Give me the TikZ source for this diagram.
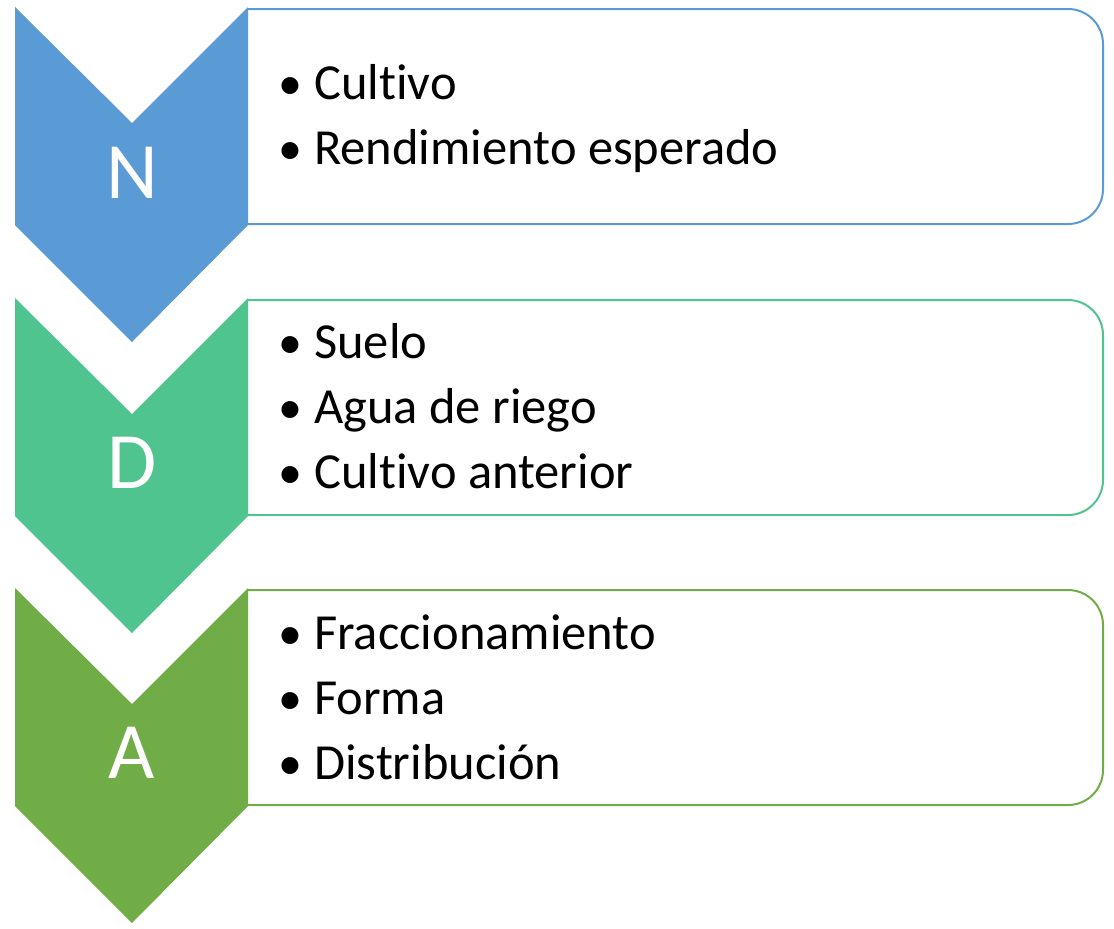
\documentclass[tikz,border=0pt]{standalone}
\usepackage{fontspec}
\setmainfont{Carlito}[RawFeature={-liga;-clig;-dlig}]
\definecolor{cblue}{RGB}{91,155,213}
\definecolor{cteal}{RGB}{79,196,142}
\definecolor{cgreen}{RGB}{112,173,71}
\begin{document}
\begin{tikzpicture}[x=1pt,y=-1pt,
  letter/.style={text=white,font=\fontsize{80}{80}\selectfont,inner sep=0pt},
  item/.style={anchor=base west,font=\fontsize{50.5}{60}\selectfont,inner sep=0pt},
  bul/.style={anchor=base,font=\fontsize{48}{60}\selectfont,inner sep=0pt}]
\useasboundingbox (0,0) rectangle (1114,929);
\newcommand{\chev}[3]{%
  \fill[#2] (15,#1) -- (132,#1+116) -- (248,#1) -- (248,#1+218) -- (132,#1+335) -- (15,#1+218) -- cycle;
  \draw[#2,line width=2pt] (248,#1+2) -- (1068,#1+2) arc[start angle=90,end angle=0,radius=35pt]
     -- (1103,#1+182) arc[start angle=0,end angle=-90,radius=35pt] -- (248,#1+217);
}
\chev{7}{cblue}{N}
\chev{298}{cteal}{D}
\chev{588}{cgreen}{A}
\node[letter] (lN) at (132,173) {N};
\node[letter] (lD) at (132,463) {D};
\node[letter] (lA) at (132,753) {A};
% row 1
\node[bul] (b11) at (290,99) {\textbullet};
\node[item] (t11) at (314,99) {Cultivo};
\node[bul] (b12) at (290,164) {\textbullet};
\node[item] (t12) at (314,164) {Rendimiento esperado};
% row 2
\node[bul] (b21) at (290,358) {\textbullet};
\node[item] (t21) at (314,358) {Suelo};
\node[bul] (b22) at (290,423) {\textbullet};
\node[item] (t22) at (314,423) {Agua de riego};
\node[bul] (b23) at (290,488) {\textbullet};
\node[item] (t23) at (314,488) {Cultivo anterior};
% row 3
\node[bul] (b31) at (290,649) {\textbullet};
\node[item] (t31) at (314,649) {Fraccionamiento};
\node[bul] (b32) at (290,714) {\textbullet};
\node[item] (t32) at (314,714) {Forma};
\node[bul] (b33) at (290,779) {\textbullet};
\node[item] (t33) at (314,779) {Distribución};
\end{tikzpicture}
\end{document}
